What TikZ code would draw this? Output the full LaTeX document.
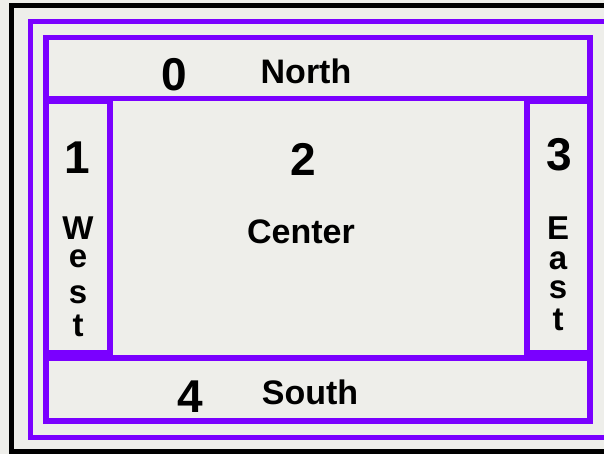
\documentclass[tikz,border=0pt]{standalone}
\usepackage{fontspec}
\setmainfont{Liberation Sans}
\definecolor{bg}{RGB}{238,238,234}
\definecolor{vio}{RGB}{122,0,255}
\begin{document}
\begin{tikzpicture}[x=1pt,y=-1pt,
  region/.style={draw=vio,line width=5.5pt},
  digit/.style={font=\fontsize{46}{46}\selectfont\bfseries,anchor=base,inner sep=0pt},
  lbl/.style={font=\fontsize{34}{34}\selectfont\bfseries,anchor=base,inner sep=0pt},
  vlbl/.style={font=\fontsize{33}{33}\selectfont\bfseries,anchor=base,inner sep=0pt}]
\useasboundingbox (0,0) rectangle (604,454);
\clip (0,0) rectangle (604,454);
\fill[bg] (0,0) rectangle (604,454);
% outer frames
\draw[black,line width=5pt] (11.5,5.5) rectangle (620,451);
\draw[draw=vio,line width=5pt] (30.5,21.5) rectangle (612,437.5);
% regions
\draw[region] (46,37.5) rectangle (590,98.5);
\draw[region] (46,101) rectangle (110,353);
\draw[region] (527,101) rectangle (590,353);
\draw[region] (46,358) rectangle (590,421);
% labels
\node[digit] (n0) at (174,91) {0};
\node[lbl] (north) at (306,84) {North};
\node[digit] (n1) at (77,174) {1};
\node[digit] (n2) at (303,176) {2};
\node[digit] (n3) at (559,171) {3};
\node[lbl] (center) at (301,243) {Center};
\node[digit] (n4) at (190,412) {4};
\node[lbl] (south) at (310,404) {South};
% West
\node[vlbl] (w1) at (78,239) {W};
\node[vlbl] (w2) at (78,267) {e};
\node[vlbl] (w3) at (78,303) {s};
\node[vlbl] (w4) at (78,336) {t};
% East
\node[vlbl] (e1) at (558,239) {E};
\node[vlbl] (e2) at (558,269) {a};
\node[vlbl] (e3) at (558,298) {s};
\node[vlbl] (e4) at (558,330) {t};
\end{tikzpicture}
\end{document}
